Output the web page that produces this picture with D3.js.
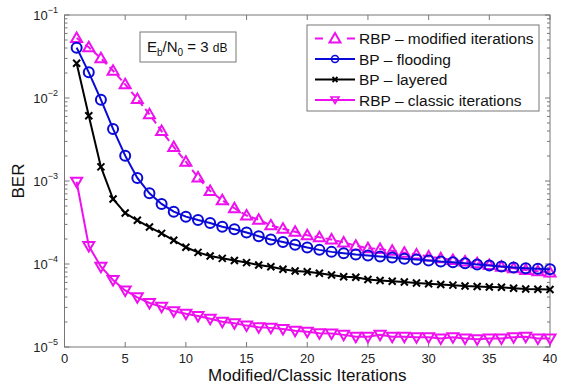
<!DOCTYPE html>
<html>
<head>
<meta charset="utf-8">
<script src="https://cdn.jsdelivr.net/npm/d3@7"></script>
<style>
  body { margin: 0; background: #fff; }
  text { font-family: "Liberation Sans", Arial, sans-serif; }
</style>
</head>
<body>
<svg id="chart" width="567" height="387"></svg>
<script>
// iterations on the x axis
var iterations = [1, 2, 3, 4, 5, 6, 7, 8, 9, 10, 11, 12, 13, 14, 15, 16, 17, 18, 19, 20,
  21, 22, 23, 24, 25, 26, 27, 28, 29, 30, 31, 32, 33, 34, 35, 36, 37, 38, 39, 40];

// BER values
var rbpModified = [5.28e-2, 4.08e-2, 3.01e-2, 2.13e-2, 1.46e-2, 9.73e-3, 6.37e-3, 4.0e-3, 2.57e-3, 1.71e-3,
  1.1e-3, 7.6e-4, 5.85e-4, 4.7e-4, 3.84e-4, 3.42e-4, 2.92e-4, 2.66e-4, 2.45e-4, 2.22e-4,
  2.1e-4, 1.97e-4, 1.82e-4, 1.66e-4, 1.55e-4, 1.52e-4, 1.44e-4, 1.37e-4, 1.30e-4, 1.23e-4,
  1.17e-4, 1.12e-4, 1.07e-4, 1.02e-4, 9.73e-5, 9.28e-5, 8.88e-5, 8.47e-5, 8.17e-5, 7.9e-5];
var bpFlooding = [4.04e-2, 2.04e-2, 9.55e-3, 4.24e-3, 2.02e-3, 1.09e-3, 7.1e-4, 5.3e-4, 4.27e-4, 3.72e-4,
  3.39e-4, 3.12e-4, 2.81e-4, 2.62e-4, 2.4e-4, 2.16e-4, 1.97e-4, 1.84e-4, 1.71e-4, 1.58e-4,
  1.48e-4, 1.40e-4, 1.35e-4, 1.30e-4, 1.27e-4, 1.23e-4, 1.20e-4, 1.16e-4, 1.13e-4, 1.10e-4,
  1.07e-4, 1.05e-4, 1.02e-4, 9.86e-5, 9.59e-5, 9.33e-5, 9.08e-5, 8.9e-5, 8.75e-5, 8.63e-5];
var bpLayered = [2.62e-2, 6.12e-3, 1.48e-3, 6.07e-4, 4.11e-4, 3.36e-4, 2.79e-4, 2.34e-4, 1.93e-4, 1.59e-4,
  1.38e-4, 1.25e-4, 1.17e-4, 1.10e-4, 1.04e-4, 9.73e-5, 9.28e-5, 8.63e-5, 8.24e-5, 8.07e-5,
  7.73e-5, 7.37e-5, 7.03e-5, 6.92e-5, 6.5e-5, 6.33e-5, 6.21e-5, 6.07e-5, 5.9e-5, 5.79e-5,
  5.66e-5, 5.56e-5, 5.43e-5, 5.36e-5, 5.28e-5, 5.24e-5, 5.1e-5, 5.0e-5, 4.96e-5, 4.92e-5];
var rbpClassic = [9.8e-4, 1.65e-4, 9.28e-5, 6.41e-5, 4.8e-5, 3.97e-5, 3.39e-5, 3.06e-5, 2.69e-5, 2.52e-5,
  2.36e-5, 2.19e-5, 2.02e-5, 1.93e-5, 1.81e-5, 1.73e-5, 1.70e-5, 1.65e-5, 1.57e-5, 1.53e-5,
  1.46e-5, 1.45e-5, 1.40e-5, 1.33e-5, 1.33e-5, 1.40e-5, 1.33e-5, 1.33e-5, 1.31e-5, 1.31e-5,
  1.27e-5, 1.31e-5, 1.27e-5, 1.24e-5, 1.27e-5, 1.27e-5, 1.31e-5, 1.33e-5, 1.27e-5, 1.27e-5];

var legendLabels = ["RBP \u2013 modified iterations", "BP \u2013 flooding", "BP \u2013 layered", "RBP \u2013 classic iterations"];
var xTicks = [0, 5, 10, 15, 20, 25, 30, 35, 40];
var yExponents = [-1, -2, -3, -4, -5];

var magenta = "#ee10ee", blue = "#0a0ad8";

var series = [
  { values: rbpModified, color: magenta, marker: "up", dash: "7,4" },
  { values: bpFlooding, color: blue, marker: "circle", dash: null },
  { values: bpLayered, color: "#000", marker: "cross", dash: null },
  { values: rbpClassic, color: magenta, marker: "down", dash: null }
];

var plotLeft = 64.5, plotRight = 550, plotTop = 15, plotBottom = 347;
var svg = d3.select("#chart");

var x = d3.scaleLinear().domain([0, 40]).range([plotLeft, plotRight]);
var y = d3.scaleLog().domain([1e-5, 1e-1]).range([plotBottom, plotTop]);

var axisColor = "#777";

// axis box
svg.append("rect")
  .attr("x", plotLeft).attr("y", plotTop)
  .attr("width", plotRight - plotLeft).attr("height", plotBottom - plotTop)
  .attr("fill", "none").attr("stroke", axisColor).attr("stroke-width", 1);

// x ticks (inward, bottom and top)
xTicks.forEach(function(t) {
  var px = x(t);
  svg.append("line").attr("x1", px).attr("x2", px).attr("y1", plotBottom).attr("y2", plotBottom - 5)
    .attr("stroke", axisColor);
  svg.append("line").attr("x1", px).attr("x2", px).attr("y1", plotTop).attr("y2", plotTop + 5)
    .attr("stroke", axisColor);
  svg.append("text").attr("x", px).attr("y", 363)
    .attr("text-anchor", "middle").style("font-size", "13px").attr("fill", "#222")
    .text(t);
});

// y ticks: majors at decades, minors 2..9 inside each decade
yExponents.forEach(function(e) {
  var base = Math.pow(10, e);
  var py = y(base);
  [plotLeft, plotRight].forEach(function(sx, k) {
    var dir = k === 0 ? 1 : -1;
    svg.append("line").attr("x1", sx).attr("x2", sx + dir * 5).attr("y1", py).attr("y2", py)
      .attr("stroke", axisColor);
    if (e < -1) {
      for (var m = 2; m <= 9; m++) {
        var my = y(base * m);
        svg.append("line").attr("x1", sx).attr("x2", sx + dir * 3).attr("y1", my).attr("y2", my)
          .attr("stroke", axisColor);
      }
    }
  });
  var lab = svg.append("text").attr("x", 58).attr("y", py + 5)
    .attr("text-anchor", "end").style("font-size", "13px").attr("fill", "#222");
  lab.append("tspan").text("10");
  lab.append("tspan").attr("dy", -7).style("font-size", "9px").text("\u2212" + (-e));
});

// axis labels
svg.append("text").attr("x", x(20)).attr("y", 381)
  .attr("text-anchor", "middle").style("font-size", "17px").attr("fill", "#111")
  .text("Modified/Classic Iterations");
svg.append("text").attr("transform", "translate(24," + ((plotTop + plotBottom) / 2) + ") rotate(-90)")
  .attr("text-anchor", "middle").style("font-size", "17px").attr("fill", "#111")
  .text("BER");

function drawMarker(g, type, cx, cy, color) {
  if (type === "circle") {
    g.append("circle").attr("cx", cx).attr("cy", cy).attr("r", 5)
      .attr("fill", "none").attr("stroke", color).attr("stroke-width", 2);
  } else if (type === "cross") {
    var s = 3.5;
    g.append("path")
      .attr("d", "M" + (cx - s) + "," + (cy - s) + "L" + (cx + s) + "," + (cy + s) +
                 "M" + (cx - s) + "," + (cy + s) + "L" + (cx + s) + "," + (cy - s))
      .attr("stroke", color).attr("stroke-width", 2);
  } else {
    var d = type === "up" ? 1 : -1;
    g.append("path")
      .attr("d", "M" + cx + "," + (cy - 5.5 * d) + "L" + (cx + 5.5) + "," + (cy + 4 * d) +
                 "L" + (cx - 5.5) + "," + (cy + 4 * d) + "Z")
      .attr("fill", "none").attr("stroke", color).attr("stroke-width", 2);
  }
}

var line = d3.line()
  .x(function(d, i) { return x(iterations[i]); })
  .y(function(d) { return y(d); });

series.forEach(function(s) {
  var g = svg.append("g");
  g.append("path").attr("d", line(s.values))
    .attr("fill", "none").attr("stroke", s.color).attr("stroke-width", 2)
    .attr("stroke-dasharray", s.dash);
  s.values.forEach(function(v, i) {
    drawMarker(g, s.marker, x(iterations[i]), y(v), s.color);
  });
});

// Eb/N0 annotation
svg.append("rect").attr("x", 140).attr("y", 32).attr("width", 96).attr("height", 30)
  .attr("fill", "#fff").attr("stroke", "#777");
var ann = svg.append("text").attr("x", 147).attr("y", 52)
  .style("font-size", "15px").attr("fill", "#111");
ann.append("tspan").text("E");
ann.append("tspan").attr("dy", 4).style("font-size", "10px").text("b");
ann.append("tspan").attr("dy", -4).text("/N");
ann.append("tspan").attr("dy", 4).style("font-size", "10px").text("0");
ann.append("tspan").attr("dy", -4).text(" = 3 ");
ann.append("tspan").style("font-size", "12px").text("dB");

// legend
svg.append("rect").attr("x", 307).attr("y", 25).attr("width", 232).attr("height", 86)
  .attr("fill", "#fff").attr("stroke", "#777");
series.forEach(function(s, i) {
  var ly = 38.5 + i * 20.5;
  var lg = svg.append("g");
  if (s.dash) {
    lg.append("line").attr("x1", 315).attr("x2", 323).attr("y1", ly).attr("y2", ly)
      .attr("stroke", s.color).attr("stroke-width", 2);
    lg.append("line").attr("x1", 347).attr("x2", 355).attr("y1", ly).attr("y2", ly)
      .attr("stroke", s.color).attr("stroke-width", 2);
  } else {
    lg.append("line").attr("x1", 315).attr("x2", 355).attr("y1", ly).attr("y2", ly)
      .attr("stroke", s.color).attr("stroke-width", 2);
  }
  if (s.marker === "up") {
    drawMarker(lg, "up", 335, ly, s.color);
  } else if (s.marker === "circle") {
    lg.append("circle").attr("cx", 335).attr("cy", ly).attr("r", 3.5)
      .attr("fill", "none").attr("stroke", s.color).attr("stroke-width", 1.6);
  } else if (s.marker === "cross") {
    lg.append("path").attr("d", "M332.5,36L337.5,41M332.5,41L337.5,36")
      .attr("transform", "translate(0," + (ly - 38.5) + ")")
      .attr("stroke", s.color).attr("stroke-width", 1.8);
  } else {
    lg.append("path")
      .attr("d", "M335," + (ly + 3.5) + "L339," + (ly - 3) + "L331," + (ly - 3) + "Z")
      .attr("fill", "none").attr("stroke", s.color).attr("stroke-width", 1.6);
  }
  lg.append("text").attr("x", 359).attr("y", ly + 5.5)
    .style("font-size", "15.5px").attr("fill", "#111")
    .text(legendLabels[i]);
});
</script>
</body>
</html>
